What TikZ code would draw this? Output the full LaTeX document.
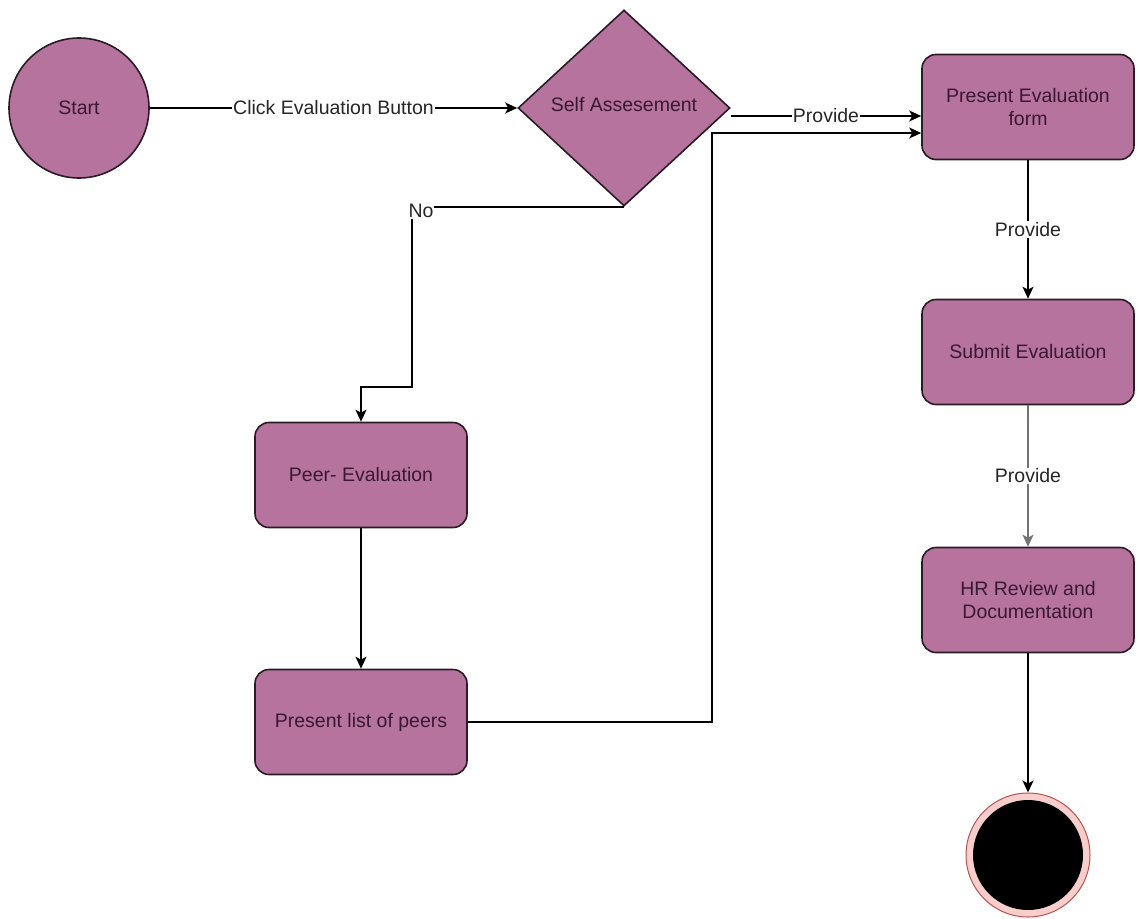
\documentclass[tikz,border=0pt]{standalone}
\usepackage{fontspec}
\setmainfont{Liberation Sans}
\usetikzlibrary{shapes.geometric,arrows.meta}
\definecolor{boxfill}{HTML}{B5739D}
\definecolor{boxline}{HTML}{2A1C25}
\definecolor{boxtext}{HTML}{3A1833}
\definecolor{ringfill}{HTML}{F8CECC}
\definecolor{ringline}{HTML}{B85450}
\begin{document}
\begin{tikzpicture}[x=1pt,y=-1pt,
  every node/.style={font=\fontsize{19.5}{23.5}\selectfont},
  stepbox/.style={draw=boxline,line width=1.6pt,fill=boxfill,rounded corners=14pt,
    minimum width=212pt,minimum height=105pt,inner sep=0pt,align=center,text=boxtext},
  startnode/.style={circle,draw=boxline,line width=1.6pt,fill=boxfill,minimum size=140pt,
    inner sep=0pt,text=boxtext},
  decision/.style={diamond,draw=boxline,line width=1.6pt,fill=boxfill,minimum width=212pt,
    minimum height=196pt,inner sep=0pt,text=boxtext},
  flow/.style={draw=black,line width=1.5pt,-{Stealth[length=12pt,width=11pt,inset=3pt]}},
  lbl/.style={fill=white,inner sep=1pt,text=black!85}
]
\useasboundingbox (0,0) rectangle (1137,918);

% nodes
\node[startnode] (start) at (79,108) {Start};
\node[decision] (self) at (624,108) {};
\node[text=boxtext] at (624,105) {Self Assesement};
\node[stepbox] (form) at (1028,107) {Present Evaluation\\form};
\node[stepbox] (submit) at (1028,352) {Submit Evaluation};
\node[stepbox] (hr) at (1028,600) {HR Review and\\Documentation};
\node[stepbox] (peer) at (361,475) {Peer- Evaluation};
\node[stepbox] (list) at (361,722) {Present list of peers};

% end state
\node[circle,draw=ringline,line width=1pt,fill=ringfill,minimum size=124pt,inner sep=0pt] (end) at (1028,855) {};
\node[circle,fill=black,minimum size=110pt,inner sep=0pt] (endcore) at (end.center) {};

% connectors
\draw[flow] (start.east) -- node[lbl] {Click Evaluation Button} (self.west);
\draw[flow] (self.east |- 0,116) -- node[lbl,pos=0.5] {Provide} (form.west |- 0,116);
\draw[flow] (list.east) -- (712,722) -- (712,133) -- (form.west |- 0,133);
\draw[flow] (self.south) -| (412,387) -- (361,387) -- (peer.north);
\node[lbl] (no) at (421,211) {No};
\draw[flow] (peer.south) -- (list.north);
\draw[flow] (form.south) -- node[lbl] {Provide} (submit.north);
\draw[flow,draw=black!55] (submit.south) -- node[lbl] {Provide} (hr.north);
\draw[flow] (hr.south) -- (end.north);
\end{tikzpicture}
\end{document}
